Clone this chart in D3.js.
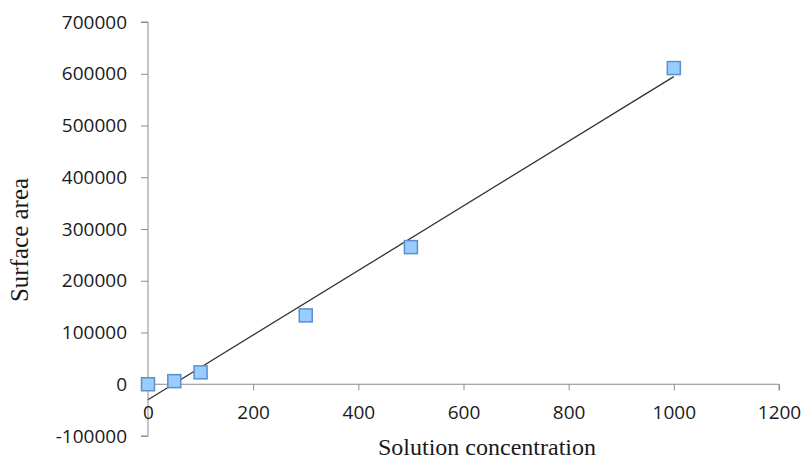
<!DOCTYPE html>
<html>
<head>
<meta charset="utf-8">
<script src="https://cdn.jsdelivr.net/npm/d3@7"></script>
<style>
  body { margin: 0; background: #fff; }
  svg { display: block; }
</style>
</head>
<body>
<svg width="804" height="460"></svg>
<script>
// concentration vs measured surface area
const concentration = [0, 50, 100, 300, 500, 1000];
const surfaceArea = [0, 6000, 23000, 133000, 265000, 611000];
const xTicks = [0, 200, 400, 600, 800, 1000, 1200];
const yTicks = [-100000, 0, 100000, 200000, 300000, 400000, 500000, 600000, 700000];

const svg = d3.select('svg');

const margin = {top: 22, left: 148};
const innerWidth = 779 - margin.left;
const innerHeight = 436 - margin.top;

const xScale = d3.scaleLinear().domain([0, 1200]).range([0, innerWidth]);
const yScale = d3.scaleLinear().domain([-100000, 700000]).range([innerHeight, 0]);

const g = svg.append('g')
  .attr('transform', `translate(${margin.left},${margin.top})`);

const tickFont = '"Open Sans", "Liberation Sans", sans-serif';

// y axis
const yAxis = g.append('g')
  .call(d3.axisLeft(yScale).tickValues(yTicks).tickSize(7).tickPadding(14).tickFormat(d => d));
yAxis.select('.domain').attr('stroke', '#8c8c8c').attr('d', `M-7,${innerHeight}H0V0H-7`);
yAxis.selectAll('.tick line').attr('stroke', '#8c8c8c');
yAxis.selectAll('.tick text')
  .attr('fill', '#1a1a1a')
  .style('font-family', tickFont)
  .style('font-size', '19px');

// x axis along zero
const xAxis = g.append('g')
  .attr('transform', `translate(0,${yScale(0)})`)
  .call(d3.axisBottom(xScale).tickValues(xTicks).tickSize(6).tickPadding(15).tickFormat(d => d));
xAxis.select('.domain').attr('stroke', '#8c8c8c').attr('d', `M0,0H${innerWidth}V6`);
xAxis.selectAll('.tick line').attr('stroke', '#8c8c8c');
xAxis.selectAll('.tick text')
  .attr('fill', '#1a1a1a')
  .style('font-family', tickFont)
  .style('font-size', '19px');

// linear trendline (least squares)
const mx = d3.mean(concentration);
const my = d3.mean(surfaceArea);
let sxy = 0, sxx = 0;
concentration.forEach((x, i) => {
  sxy += (x - mx) * (surfaceArea[i] - my);
  sxx += (x - mx) * (x - mx);
});
const slope = sxy / sxx;
const intercept = my - slope * mx;
const xMin = d3.min(concentration), xMax = d3.max(concentration);

g.append('line')
  .attr('x1', xScale(xMin)).attr('y1', yScale(intercept + slope * xMin))
  .attr('x2', xScale(xMax)).attr('y2', yScale(intercept + slope * xMax))
  .attr('stroke', '#333')
  .attr('stroke-width', 1.3);

// markers
const s = 13;
g.selectAll('rect.pt').data(concentration)
  .enter().append('rect')
    .attr('class', 'pt')
    .attr('x', d => xScale(d) - s / 2)
    .attr('y', (d, i) => yScale(surfaceArea[i]) - s / 2)
    .attr('width', s)
    .attr('height', s)
    .attr('fill', '#99ccff')
    .attr('stroke', '#5a8fd0')
    .attr('stroke-width', 1.5);

// titles
svg.append('text')
  .attr('x', 487)
  .attr('y', 455)
  .attr('text-anchor', 'middle')
  .style('font-family', '"Liberation Serif", "Times New Roman", serif')
  .style('font-size', '24px')
  .attr('fill', '#1a1a1a')
  .text('Solution concentration');

svg.append('text')
  .attr('transform', 'translate(28,240) rotate(-90)')
  .attr('text-anchor', 'middle')
  .style('font-family', '"Liberation Serif", "Times New Roman", serif')
  .style('font-size', '25px')
  .attr('fill', '#1a1a1a')
  .text('Surface area');
</script>
</body>
</html>
